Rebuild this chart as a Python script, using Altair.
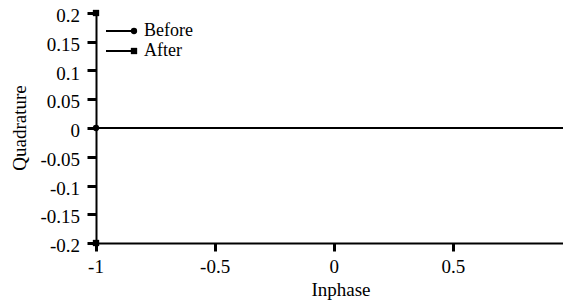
import altair as alt
import pandas as pd

before_x = [-1, 1]
before_y = [0, 0]
after_x = [-1, -1, 1, 1]
after_y = [0.2, -0.2, 0.2, -0.2]
x_ticks = [-1, -0.5, 0, 0.5, 1]
x_tick_labels = ["-1", "-0.5", "0", "0.5", "1"]
y_ticks = [0.2, 0.15, 0.1, 0.05, 0, -0.05, -0.1, -0.15, -0.2]
y_tick_labels = ["0.2", "0.15", "0.1", "0.05", "0", "-0.05", "-0.1", "-0.15", "-0.2"]
legend_labels = ["Before", "After"]
x_title = "Inphase"
y_title = "Quadrature"

FONT = "Liberation Serif"
FS = 19
XMAX = 0.9597  # the reference is cut at the right edge, just before x = 1

before = pd.DataFrame({"x": before_x, "y": before_y})
after = pd.DataFrame({"x": after_x, "y": after_y})
xt = pd.DataFrame({"v": x_ticks, "t": x_tick_labels})
xt = xt[xt["v"] <= XMAX]
yt = pd.DataFrame({"v": y_ticks, "t": y_tick_labels})

xs = alt.Scale(domain=[-1, XMAX], nice=False, zero=False)
ys = alt.Scale(domain=[-0.2, 0.2], nice=False, zero=False)

xaxis = alt.Axis(values=x_ticks, title=None, labels=False, grid=False, domainColor="black",
                 domainWidth=2, tickColor="black", tickWidth=3, tickSize=8)
yaxis = alt.Axis(values=y_ticks, title=None, labels=False, grid=False, domainColor="black",
                 domainWidth=2, tickColor="black", tickWidth=3, tickSize=9)

X = alt.X("x:Q", scale=xs, axis=xaxis)
Y = alt.Y("y:Q", scale=ys, axis=yaxis)

line = alt.Chart(before).mark_line(color="black", strokeWidth=2, clip=True).encode(x=X, y=Y)
bpts = alt.Chart(before).mark_point(shape="circle", filled=True, color="black", size=40, opacity=1).encode(x=X, y=Y)
apts = alt.Chart(after).mark_point(shape="square", filled=True, color="black", size=40, opacity=1).encode(x=X, y=Y)

ylab = alt.Chart(yt).mark_text(align="right", baseline="middle", font=FONT, fontSize=FS,
                               color="black", dy=3).encode(
    x=alt.value(-16), y=alt.Y("v:Q", scale=ys, axis=yaxis), text="t:N")
xlab = alt.Chart(xt).mark_text(align="center", baseline="alphabetic", font=FONT, fontSize=FS,
                               color="black").encode(
    x=alt.X("v:Q", scale=xs, axis=xaxis), y=alt.value(260), text="t:N")

xtit = alt.Chart(pd.DataFrame({"t": [x_title]})).mark_text(
    align="center", baseline="alphabetic", font=FONT, fontSize=FS, color="black").encode(
    x=alt.value(245), y=alt.value(283), text="t:N")
ytit = alt.Chart(pd.DataFrame({"t": [y_title]})).mark_text(
    align="center", baseline="alphabetic", font=FONT, fontSize=FS, color="black", angle=270).encode(
    x=alt.value(-70), y=alt.value(115), text="t:N")

leg = pd.DataFrame({"label": legend_labels, "py": [18, 38]})
leg_line = alt.Chart(leg).mark_rule(color="black", strokeWidth=2).encode(
    x=alt.value(10), x2=alt.value(38), y=alt.Y("py:Q", scale=None))
leg_b = alt.Chart(leg.iloc[[0]]).mark_point(shape="circle", filled=True, color="black", size=40, opacity=1).encode(
    x=alt.value(38), y=alt.Y("py:Q", scale=None))
leg_a = alt.Chart(leg.iloc[[1]]).mark_point(shape="square", filled=True, color="black", size=40, opacity=1).encode(
    x=alt.value(38), y=alt.Y("py:Q", scale=None))
leg_t = alt.Chart(leg).mark_text(align="left", baseline="middle", font=FONT, fontSize=18, color="black").encode(
    x=alt.value(48), y=alt.Y("py:Q", scale=None), text="label:N")

chart = alt.layer(line, bpts, apts, ylab, xlab, xtit, ytit, leg_line, leg_b, leg_a, leg_t).properties(
    width=467, height=230,
    autosize=alt.AutoSizeParams(type="none"),
    padding={"left": 88, "top": 5, "right": 0, "bottom": 60},
).configure(background="white", font=FONT).configure_view(stroke=None)

chart.save("out.html", embed_options={"renderer": "svg", "actions": False})
